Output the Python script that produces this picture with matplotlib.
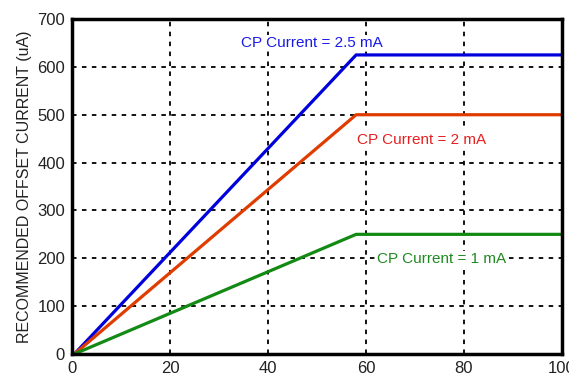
import matplotlib.pyplot as plt

plt.rcParams['font.family'] = ['Liberation Sans', 'DejaVu Sans']

# offset current vs x, three charge-pump settings
x_pts = [0.5, 58, 100]
i_25 = [0, 625, 625]
i_20 = [0, 500, 500]
i_10 = [0, 250, 250]

labels = ['CP Current = 2.5 mA', 'CP Current = 2 mA', 'CP Current = 1 mA']
label_pos = [(34.5, 650), (58.2, 448), (62.3, 198)]
line_colors = ['#0000dd', '#e03c00', '#138a13']
text_colors = ['#1a1ae6', '#e62020', '#1f8a1f']

fig = plt.figure(figsize=(5.69, 3.81), dpi=100)
ax = fig.add_axes([0.1265, 0.071, 0.861, 0.879])

for y, c in zip([i_25, i_20, i_10], line_colors):
    ax.plot(x_pts, y, color=c, linewidth=2.3, zorder=3, solid_capstyle='butt')

for (tx, ty), txt, c in zip(label_pos, labels, text_colors):
    ax.text(tx, ty, txt, color=c, fontsize=11, va='center', ha='left', zorder=4,
            bbox=dict(facecolor='white', edgecolor='none', pad=1))

ax.set_xlim(0, 100)
ax.set_ylim(0, 700)
ax.set_xticks(range(0, 101, 20))
ax.set_yticks(range(0, 701, 100))
ax.grid(True, color='black', linestyle=(0, (2.5, 3)), linewidth=1.3)
ax.tick_params(length=0, labelsize=12, pad=5, colors='#222222')
for s in ax.spines.values():
    s.set_linewidth(2.5)
    s.set_zorder(5)
ax.set_ylabel('RECOMMENDED OFFSET CURRENT (uA)', fontsize=11.5, color='#222222', labelpad=4)

fig.savefig('out.png', dpi=100)
